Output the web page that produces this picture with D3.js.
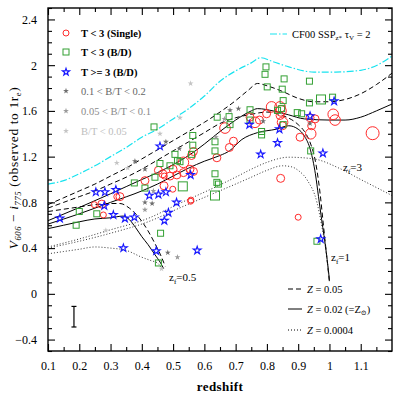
<!DOCTYPE html>
<html lang="en">
<head>
<meta charset="UTF-8">
<title>Colour vs redshift</title>
<script src="https://cdn.jsdelivr.net/npm/d3@7"></script>
<style>
  body { margin: 0; background: #fff; }
  text { font-family: "Liberation Serif", "DejaVu Serif", serif; }
</style>
</head>
<body>
<div id="vis"></div>
<script>
// ---- data (redshift, V606 - i775 colour, size class) ----
var single = [
  [0.248,0.78,1],[0.272,0.785,2],[0.277,0.69,1],[0.32,0.85,1],[0.33,0.85,2],[0.41,0.99,2],
  [0.453,1.08,2],[0.467,1.05,2],[0.472,1.03,1],[0.49,1.03,2],[0.5,1.09,2],[0.512,1.04,2],
  [0.533,1.06,2],[0.533,1.15,3],[0.554,1.09,2],[0.565,1.07,2],[0.471,0.945,2],[0.499,0.915,1],
  [0.557,0.82,1],[0.559,1.21,2],[0.565,1.245,2],[0.64,1.19,2],[0.68,1.28,2],[0.693,1.335,2],
  [0.666,1.45,3],[0.746,1.545,2],[0.762,1.50,3],[0.799,1.575,2],[0.815,1.635,3],[0.842,1.635,3],
  [0.845,1.60,3],[0.842,1.56,2],[0.85,1.50,3],[0.85,1.47,2],[0.776,1.52,2],[0.906,1.37,2],
  [0.938,1.54,2],[0.943,1.47,2],[0.94,1.40,3],[0.954,1.53,2],[1.012,1.57,3],[1.018,1.52,3],
  [1.138,1.405,4],[0.844,1.01,2],[0.9,0.67,1],[0.556,0.81,1]
];
var bulgeDisk = [
  [0.19,0.60,1],[0.2,0.72,1],[0.256,0.70,1],[0.376,0.97,1],[0.41,0.925,1],[0.439,1.46,1],
  [0.442,1.02,1],[0.458,1.14,1],[0.46,0.53,1],[0.453,0.27,1],[0.49,1.12,1],[0.506,1.22,1],
  [0.514,1.165,1],[0.522,1.156,1],[0.531,0.94,2],[0.563,1.385,1],[0.563,1.30,1],[0.559,1.22,1],
  [0.634,1.33,1],[0.634,1.25,1],[0.634,1.05,1],[0.64,0.975,1],[0.645,0.96,1],[0.634,0.86,2],
  [0.641,1.545,1],[0.679,1.55,1],[0.682,1.48,1],[0.746,1.61,1],[0.746,1.52,1],[0.783,1.42,1],
  [0.783,1.39,1],[0.797,1.985,1],[0.794,1.92,1],[0.801,1.81,1],[0.855,1.88,1],[0.849,1.79,1],
  [0.852,1.69,1],[0.847,1.62,1],[0.852,1.48,1],[0.897,1.585,1],[0.911,1.575,1],[0.936,1.86,1],
  [0.936,1.67,1],[0.973,1.70,2],[1.01,1.72,1],[0.94,1.25,1],[0.96,0.46,1],[0.834,1.605,1]
];
var lateType = [
  [0.138,0.66],[0.253,0.89],[0.282,0.89],[0.317,0.91],[0.28,0.77],[0.309,0.69],[0.346,0.66],
  [0.376,0.67],[0.341,0.40],[0.424,0.86],[0.453,0.87],[0.472,0.64],[0.485,0.71],[0.511,0.80],
  [0.446,0.375],[0.577,0.38],[0.458,1.29],[0.556,1.04],[0.477,0.89],[0.744,1.48],[0.78,1.22],
  [0.834,1.32],[0.84,1.44],[0.938,1.555],[1.015,1.685],[0.979,1.23],[0.972,0.48]
];
var bt01 = [[0.378,1.16],[0.41,1.09],[0.41,0.80],[0.433,0.79],[0.477,1.33],[0.52,1.27],[0.483,0.36],
  [0.682,1.605],[0.709,1.62],[0.788,1.51],[0.938,1.49]];
var bt005 = [[0.41,0.735],[0.514,0.32],[0.664,1.53],[0.637,1.37],[0.437,0.90]];
var btLow = [[0.32,1.145],[0.355,1.10],[0.458,1.40],[0.522,1.54],[0.556,1.84],[0.285,0.555],[0.463,0.22]];

// ---- model tracks ----
var cf00 = [[0.1,0.96],[0.15,0.99],[0.2,1.05],[0.25,1.12],[0.3,1.2],[0.35,1.28],[0.4,1.37],[0.45,1.44],
  [0.5,1.53],[0.55,1.62],[0.6,1.73],[0.65,1.86],[0.7,1.95],[0.75,2.02],[0.78,2.065],[0.82,2.03],
  [0.87,1.985],[0.95,1.94],[1.02,1.94],[1.1,1.955],[1.16,2.01],[1.2,2.08]];
var dashZf3 = [[0.1,0.78],[0.15,0.84],[0.2,0.90],[0.25,0.96],[0.3,1.03],[0.35,1.10],[0.4,1.18],[0.45,1.26],
  [0.5,1.34],[0.55,1.42],[0.6,1.50],[0.65,1.59],[0.7,1.69],[0.74,1.78],[0.77,1.84],[0.8,1.82],[0.85,1.77],
  [0.9,1.71],[0.95,1.68],[1.0,1.68],[1.05,1.70],[1.1,1.75],[1.15,1.83],[1.2,1.93]];
var dashZf1 = [[0.1,0.75],[0.15,0.80],[0.2,0.85],[0.25,0.90],[0.3,0.96],[0.35,1.02],[0.4,1.09],[0.45,1.17],
  [0.5,1.25],[0.55,1.33],[0.6,1.41],[0.65,1.49],[0.7,1.54],[0.75,1.57],[0.8,1.59],[0.85,1.56],[0.9,1.48],
  [0.92,1.42],[0.94,1.31],[0.955,1.16],[0.97,0.88],[0.98,0.62],[0.99,0.36],[1.0,0.1]];
var dashZf05 = [[0.1,0.72],[0.15,0.74],[0.2,0.76],[0.25,0.78],[0.3,0.79],[0.33,0.79],[0.36,0.75],
  [0.39,0.67],[0.42,0.55],[0.44,0.45],[0.46,0.34],[0.475,0.24]];
var solidZf3 = [[0.1,0.64],[0.2,0.755],[0.3,0.875],[0.4,1.0],[0.45,1.06],[0.5,1.13],[0.55,1.21],[0.6,1.31],
  [0.65,1.42],[0.7,1.52],[0.75,1.60],[0.77,1.62],[0.82,1.60],[0.87,1.565],[0.92,1.53],[1.0,1.52],
  [1.05,1.52],[1.1,1.545],[1.15,1.60],[1.2,1.66]];
var solidZf1 = [[0.1,0.61],[0.2,0.70],[0.3,0.80],[0.4,0.90],[0.45,0.96],[0.5,1.03],[0.55,1.10],[0.6,1.16],
  [0.65,1.21],[0.68,1.25],[0.72,1.35],[0.77,1.41],[0.83,1.44],[0.87,1.47],[0.9,1.44],[0.92,1.38],
  [0.94,1.25],[0.955,1.05],[0.965,0.85],[0.975,0.65],[0.99,0.36],[1.0,0.12]];
var solidZf05 = [[0.1,0.57],[0.15,0.60],[0.2,0.63],[0.25,0.655],[0.3,0.665],[0.34,0.68],[0.36,0.65],
  [0.38,0.58],[0.4,0.50],[0.42,0.43],[0.44,0.35],[0.46,0.27],[0.47,0.22]];
var dotZf3 = [[0.1,0.41],[0.2,0.48],[0.3,0.56],[0.42,0.66],[0.52,0.79],[0.64,0.94],[0.7,1.02],[0.75,1.09],
  [0.8,1.15],[0.87,1.195],[0.95,1.18],[1.03,1.10],[1.1,1.0],[1.15,0.93],[1.2,0.86]];
var dotZf1 = [[0.1,0.40],[0.2,0.46],[0.3,0.53],[0.42,0.63],[0.52,0.75],[0.64,0.89],[0.7,0.96],[0.75,1.02],
  [0.8,1.08],[0.85,1.12],[0.88,1.11],[0.9,1.08],[0.93,0.99],[0.96,0.80],[0.975,0.6],[0.99,0.35],[1.0,0.12]];
var dotZf05 = [[0.1,0.35],[0.15,0.37],[0.2,0.39],[0.25,0.41],[0.3,0.40],[0.35,0.38],[0.4,0.32],
  [0.43,0.29],[0.45,0.27],[0.465,0.22]];

var errBar = {z: 0.183, lo: -0.29, hi: -0.11};
var xTicks = [0.1,0.2,0.3,0.4,0.5,0.6,0.7,0.8,0.9,1,1.1];
var yTicks = [-0.4,0,0.4,0.8,1.2,1.6,2,2.4];

// ---- layout ----
var width = 399, height = 399;
var padL = 48, padR = 392, padT = 8, padB = 351;

var svg = d3.select("#vis").append("svg")
    .attr("width", width)
    .attr("height", height);

var x = d3.scaleLinear().domain([0.1, 1.2]).range([padL, padR]);
var y = d3.scaleLinear().domain([-0.5, 2.5]).range([padB, padT]);

var line = d3.line().x(function(d){ return x(d[0]); }).y(function(d){ return y(d[1]); })
    .curve(d3.curveMonotoneX);

var plot = svg.append("g");

// model curves
function track(data, dash, color, w) {
  plot.append("path").datum(data)
    .attr("d", line)
    .attr("fill", "none")
    .attr("stroke", color || "#000")
    .attr("stroke-width", w || 1)
    .attr("stroke-dasharray", dash);
}
track(cf00, "7,2,1.5,2", "#19e3ef", 1.2);
[dashZf3, dashZf1, dashZf05].forEach(function(d){ track(d, "5,3"); });
[solidZf3, solidZf1, solidZf05].forEach(function(d){ track(d, null); });
[dotZf3, dotZf1, dotZf05].forEach(function(d){ track(d, "1,2", "#333"); });

// symbols
var circR = d3.scaleOrdinal().domain([1,2,3,4]).range([3,4,5.3,6.5]);
var sqH = d3.scaleOrdinal().domain([1,2]).range([3,4.5]);
var star = d3.symbol().type(d3.symbolStar);

plot.selectAll(".single").data(single).enter().append("circle")
    .attr("cx", function(d){ return x(d[0]); })
    .attr("cy", function(d){ return y(d[1]); })
    .attr("r", function(d){ return circR(d[2]); })
    .attr("fill", "none").attr("stroke", "#ff2b2b").attr("stroke-width", 1);

plot.selectAll(".bd").data(bulgeDisk).enter().append("rect")
    .attr("x", function(d){ return x(d[0]) - sqH(d[2]); })
    .attr("y", function(d){ return y(d[1]) - sqH(d[2]); })
    .attr("width", function(d){ return 2*sqH(d[2]); })
    .attr("height", function(d){ return 2*sqH(d[2]); })
    .attr("fill", "none").attr("stroke", "#33a033").attr("stroke-width", 1);

plot.selectAll(".late").data(lateType).enter().append("path")
    .attr("d", star.size(19))
    .attr("transform", function(d){ return "translate(" + x(d[0]) + "," + y(d[1]) + ")"; })
    .attr("fill", "none").attr("stroke", "#1616ff").attr("stroke-width", 1.1);

function grayStars(data, color) {
  plot.selectAll(null).data(data).enter().append("path")
    .attr("d", star.size(11))
    .attr("transform", function(d){ return "translate(" + x(d[0]) + "," + y(d[1]) + ")"; })
    .attr("fill", color);
}
grayStars(btLow, "#c4c4c4");
grayStars(bt005, "#9a9a9a");
grayStars(bt01, "#6e6e6e");

// error bar
plot.append("line").attr("x1", x(errBar.z)).attr("x2", x(errBar.z))
    .attr("y1", y(errBar.lo)).attr("y2", y(errBar.hi)).attr("stroke", "#000").attr("stroke-width", 1.2);
[errBar.lo, errBar.hi].forEach(function(v){
  plot.append("line").attr("x1", x(errBar.z) - 2.5).attr("x2", x(errBar.z) + 2.5)
    .attr("y1", y(v)).attr("y2", y(v)).attr("stroke", "#000").attr("stroke-width", 1.2);
});

// ---- axes (inward ticks on all sides) ----
var fmt = function(d){ return String(d).replace("-", "\u2212"); };
var axB = d3.axisBottom(x).tickValues(xTicks).tickSize(-7).tickFormat(fmt).tickPadding(10);
var axT = d3.axisTop(x).tickValues(xTicks).tickSize(-7).tickFormat("");
var axL = d3.axisLeft(y).tickValues(yTicks).tickSize(-7).tickFormat(fmt).tickPadding(11);
var axR = d3.axisRight(y).tickValues(yTicks).tickSize(-7).tickFormat("");
var mx = d3.range(0.15, 1.2, 0.1);
var my = d3.range(-5, 26, 1).filter(function(v){ return v % 4 !== 0; }).map(function(v){ return v / 10; });
var mB = d3.axisBottom(x).tickValues(mx).tickSize(-4).tickFormat("");
var mT = d3.axisTop(x).tickValues(mx).tickSize(-4).tickFormat("");
var mL = d3.axisLeft(y).tickValues(my).tickSize(-4).tickFormat("");
var mR = d3.axisRight(y).tickValues(my).tickSize(-4).tickFormat("");

function put(ax, tx, ty) {
  var g = svg.append("g").attr("transform", "translate(" + tx + "," + ty + ")").call(ax);
  g.select(".domain").remove();
  g.selectAll("line").attr("stroke", "#000").attr("stroke-width", 1.1);
  g.selectAll("text").attr("font-size", 12).attr("fill", "#000")
    .style("font-family", "Liberation Serif, serif");
  return g;
}
put(axB, 0, padB); put(axT, 0, padT); put(axL, padL, 0); put(axR, padR, 0);
put(mB, 0, padB); put(mT, 0, padT); put(mL, padL, 0); put(mR, padR, 0);

svg.append("rect").attr("x", padL).attr("y", padT)
    .attr("width", padR - padL).attr("height", padB - padT)
    .attr("fill", "none").attr("stroke", "#000").attr("stroke-width", 1.4);

// axis titles
svg.append("text").attr("x", 220).attr("y", 391).attr("text-anchor", "middle")
    .attr("font-size", 13).attr("font-weight", "bold").attr("letter-spacing", 0.4).text("redshift");

var yl = svg.append("text").attr("transform", "translate(18,168) rotate(-90)")
    .attr("text-anchor", "middle").attr("font-size", 13.5).attr("letter-spacing", 0.6);
yl.append("tspan").attr("font-style", "italic").text("V");
yl.append("tspan").attr("font-size", 8.5).attr("font-style", "italic").attr("dy", 3).text("606");
yl.append("tspan").attr("dy", -3).text(" \u2212 ");
yl.append("tspan").attr("font-style", "italic").text("i");
yl.append("tspan").attr("font-size", 8.5).attr("font-style", "italic").attr("dy", 3).text("775");
yl.append("tspan").attr("dy", -3).text(" (observed to 1r");
yl.append("tspan").attr("font-size", 8.5).attr("dy", 3).text("e");
yl.append("tspan").attr("dy", -3).text(")");

// ---- legend, top left ----
var lx = 66, tx0 = 81, rows = [33, 52, 72, 91, 111, 131];
var lg = svg.append("g");
lg.append("circle").attr("cx", lx).attr("cy", rows[0]).attr("r", 3)
    .attr("fill", "none").attr("stroke", "#ff2b2b");
lg.append("rect").attr("x", lx - 3).attr("y", rows[1] - 3).attr("width", 6).attr("height", 6)
    .attr("fill", "none").attr("stroke", "#33a033");
lg.append("path").attr("d", star.size(16)).attr("transform", "translate(" + lx + "," + rows[2] + ")")
    .attr("fill", "none").attr("stroke", "#1616ff").attr("stroke-width", 1.1);
["#6e6e6e", "#9a9a9a", "#c4c4c4"].forEach(function(c, i){
  lg.append("path").attr("d", star.size(11)).attr("transform", "translate(" + lx + "," + rows[3 + i] + ")")
    .attr("fill", c);
});
var labels = ["T < 3 (Single)", "T < 3 (B/D)", "T >= 3 (B/D)", "0.1 < B/T < 0.2", "0.05 < B/T < 0.1", "B/T < 0.05"];
var lcol = ["#000", "#000", "#000", "#666", "#8a8a8a", "#bdbdbd"];
labels.forEach(function(t, i){
  lg.append("text").attr("x", tx0).attr("y", rows[i] + 3.5).attr("font-size", 10.5)
    .attr("font-weight", i < 3 ? "bold" : "normal").attr("fill", lcol[i]).text(t);
});

// ---- legend, top right ----
svg.append("line").attr("x1", 270).attr("x2", 287).attr("y1", 34).attr("y2", 34)
    .attr("stroke", "#19e3ef").attr("stroke-width", 1.2).attr("stroke-dasharray", "7,2,1.5,2");
var cf = svg.append("text").attr("x", 292).attr("y", 37.5).attr("font-size", 10.5);
cf.append("tspan").text("CF00 SSP");
cf.append("tspan").attr("font-size", 7).attr("dy", 2.5).text("z*");
cf.append("tspan").attr("dy", -2.5).text("  \u03c4");
cf.append("tspan").attr("font-size", 7).attr("dy", 2.5).text("V");
cf.append("tspan").attr("dy", -2.5).text(" = 2");

// ---- legend, bottom right ----
var zrows = [289, 309, 330];
var zdash = ["5,3", null, "1,2"];
var ztext = ["Z = 0.05", "Z = 0.02 (=Z", "Z = 0.0004"];
zrows.forEach(function(yy, i){
  svg.append("line").attr("x1", 288).attr("x2", 302).attr("y1", yy).attr("y2", yy)
    .attr("stroke", "#000").attr("stroke-width", 1).attr("stroke-dasharray", zdash[i]);
  var t = svg.append("text").attr("x", 307).attr("y", yy + 3.5).attr("font-size", 10.5);
  t.append("tspan").attr("font-style", "italic").text("Z");
  t.append("tspan").text(ztext[i].slice(1));
  if (i === 1) {
    t.append("tspan").attr("font-size", 7).attr("dy", 2.5).text("\u2299");
    t.append("tspan").attr("dy", -2.5).text(")");
  }
});

// ---- formation redshift labels ----
function zf(xx, yy, v) {
  var t = svg.append("text").attr("x", xx).attr("y", yy).attr("font-size", 11);
  t.append("tspan").text("z");
  t.append("tspan").attr("font-size", 7).attr("dy", 2.5).text("f");
  t.append("tspan").attr("dy", -2.5).text("=" + v);
}
zf(169, 281, "0.5");
zf(331, 261, "1");
zf(343, 171, "3");
</script>
</body>
</html>
